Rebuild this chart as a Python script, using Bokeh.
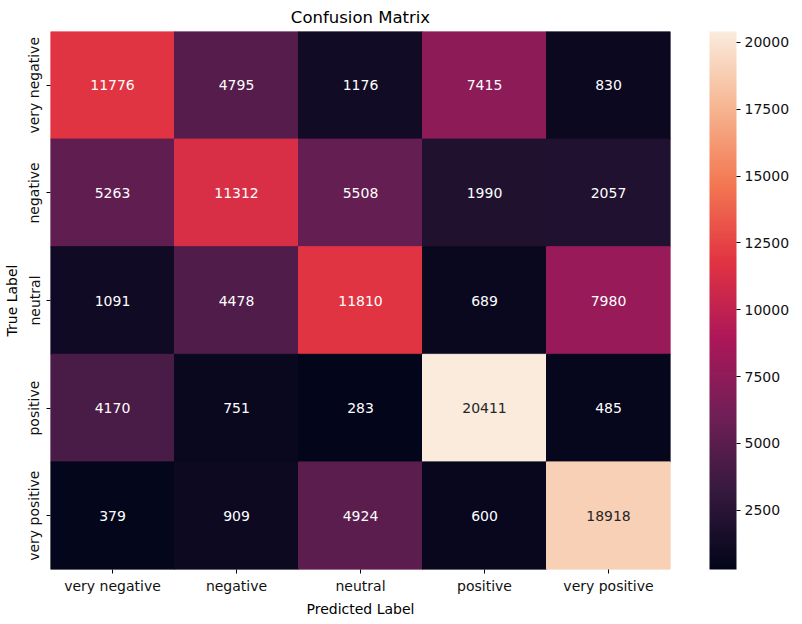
import numpy as np
from bokeh.plotting import figure
from bokeh.models import ColumnDataSource, LinearColorMapper, ColorBar, FixedTicker, FactorRange
from bokeh.core.properties import value
from bokeh.embed import file_html
from bokeh.resources import INLINE

labels = ["very negative", "negative", "neutral", "positive", "very positive"]
matrix = [
    [11776, 4795, 1176, 7415, 830],
    [5263, 11312, 5508, 1990, 2057],
    [1091, 4478, 11810, 689, 7980],
    [4170, 751, 283, 20411, 485],
    [379, 909, 4924, 600, 18918],
]
cbar_ticks = [2500, 5000, 7500, 10000, 12500, 15000, 17500, 20000]

# approximate seaborn "rocket" colormap
anchors_t = [0.0, 1/7, 2/7, 3/7, 4/7, 5/7, 6/7, 1.0]
anchors_c = ["#03051a", "#35193e", "#701f57", "#ad1759", "#e13342", "#f37651", "#f6b48f", "#faebdd"]

def hex2rgb(h):
    h = h.lstrip("#")
    return [int(h[i:i+2], 16) for i in (0, 2, 4)]

rgb = np.array([hex2rgb(c) for c in anchors_c], dtype=float)
ts = np.linspace(0, 1, 256)
palette = []
for t in ts:
    r = np.interp(t, anchors_t, rgb[:, 0])
    g = np.interp(t, anchors_t, rgb[:, 1])
    b = np.interp(t, anchors_t, rgb[:, 2])
    palette.append("#%02x%02x%02x" % (int(round(r)), int(round(g)), int(round(b))))

vals = np.array(matrix)
vmin, vmax = vals.min(), vals.max()

xs, ys, vs, txt, tcol = [], [], [], [], []
for i, row_lab in enumerate(labels):
    for j, col_lab in enumerate(labels):
        v = matrix[i][j]
        xs.append(col_lab)
        ys.append(row_lab)
        vs.append(v)
        txt.append(str(v))
        t = (v - vmin) / (vmax - vmin)
        tcol.append("#262626" if t > 0.8 else "white")

src = ColumnDataSource(dict(x=xs, y=ys, v=vs, txt=txt, tcol=tcol))
mapper = LinearColorMapper(palette=palette, low=vmin, high=vmax)

FW, FH = 620, 538
p = figure(frame_width=FW, frame_height=FH, output_backend="svg", toolbar_location=None,
           x_range=FactorRange(*labels), y_range=FactorRange(*labels[::-1]),
           title="Confusion Matrix",
           min_border_left=45, min_border_top=24, min_border_bottom=46, min_border_right=121)
p.rect(x="x", y="y", width=1, height=1, source=src,
       fill_color={"field": "v", "transform": mapper},
       line_color={"field": "v", "transform": mapper}, line_width=1)
p.text(x="x", y="y", text="txt", source=src, text_color="tcol",
       text_align="center", text_baseline="middle", text_font_size="14px",
       text_font=value("DejaVu Sans"))

p.title.align = "center"
p.title.text_font = "DejaVu Sans"
p.title.text_font_size = "16.5px"
p.title.text_font_style = "normal"
p.title.text_color = "black"

p.grid.visible = False
p.outline_line_color = None
p.background_fill_color = "white"
for ax in (p.xaxis[0], p.yaxis[0]):
    ax.axis_line_color = None
    ax.major_tick_in = 0
    ax.major_tick_out = 4
    ax.major_tick_line_color = "black"
    ax.minor_tick_line_color = None
    ax.major_label_text_font = "DejaVu Sans"
    ax.major_label_text_font_size = "14px"
    ax.major_label_text_color = "#111111"
    ax.axis_label_text_font = "DejaVu Sans"
    ax.axis_label_text_font_size = "14px"
    ax.axis_label_text_font_style = "normal"
    ax.axis_label_text_color = "black"
    ax.major_label_standoff = 4
    ax.axis_label_standoff = 4
p.xaxis.axis_label = "Predicted Label"
p.yaxis.axis_label = "True Label"
p.yaxis.major_label_orientation = "vertical"

cb = ColorBar(color_mapper=mapper, ticker=FixedTicker(ticks=cbar_ticks), width=27, height=FH,
              location=(FW + 39, 0), padding=0, margin=0, bar_line_color=None,
              major_tick_in=0, major_tick_out=4, major_tick_line_color="black",
              minor_tick_line_color=None,
              major_label_text_font="DejaVu Sans", major_label_text_font_size="14px",
              major_label_text_color="#111111", label_standoff=4,
              border_line_color=None, background_fill_color=None)
p.add_layout(cb, "center")

open("out.html", "w").write(file_html(p, INLINE))
